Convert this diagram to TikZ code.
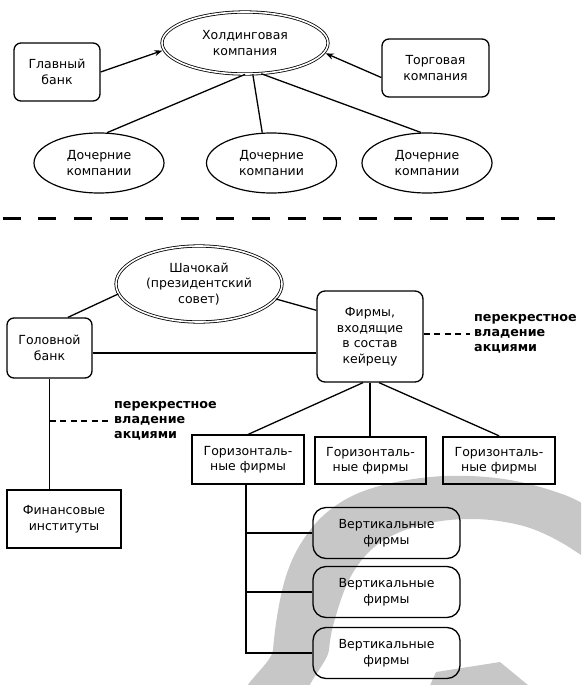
\documentclass[tikz,border=0pt]{standalone}
\usepackage{fontspec}
\setmainfont{DejaVu Sans}
\usetikzlibrary{shapes.geometric,arrows.meta,calc}
\definecolor{wm}{gray}{0.78}
\begin{document}
\begin{tikzpicture}[x=1pt,y=-1pt,
  txt/.style={font=\fontsize{12.5}{15.5}\selectfont, align=center, inner sep=0pt},
  rbox/.style={txt, draw, line width=1.3pt, rounded corners=7pt},
  sbox/.style={txt, draw, line width=1.1pt},
  tbox/.style={txt, draw, line width=2.4pt},
  vbox/.style={txt, draw, line width=1.3pt, rounded corners=13pt},
  oval/.style={txt, ellipse, draw, line width=1.2pt},
  dbl/.style={txt, ellipse, draw, line width=0.8pt, double=white, double distance=1.6pt},
  conn/.style={line width=1.3pt},
  arr/.style={conn, -{Stealth[length=8pt,width=6pt]}, shorten >=1.5pt},
  note/.style={font=\bfseries\fontsize{12.7}{15}\selectfont, align=left, inner sep=0pt, anchor=west},
  notedash/.style={line width=1.6pt, dash pattern=on 6pt off 4.5pt},
  sepline/.style={line width=3pt, dash pattern=on 18pt off 17.6pt},
]
\useasboundingbox (0,0) rectangle (581,685);
% watermark
\begin{scope}
\clip (0,0) rectangle (581,685);
\fill[wm, even odd rule]
  plot[smooth cycle, tension=0.6] coordinates {(270,720) (273,650) (280,600) (290,565) (305,537) (325,514) (352,496) (387,484) (430,477) (470,476) (510,480) (550,490) (585,505) (640,545) (680,720)}
  plot[smooth cycle, tension=0.6] coordinates {(327,720) (329,650) (337,612) (351,576) (372,549) (400,532) (435,522) (471,519) (505,522) (538,531) (575,551) (610,580) (630,640) (630,720)};
\fill[wm] (428,690) -- (436,672) -- (500,662) -- (534,690) -- cycle;
\end{scope}

% upper part
\node[rbox, minimum width=86pt, minimum height=58pt] (glav) at (57,72) {Главный\\банк};
\node[dbl, minimum width=166pt, minimum height=62pt] (hold) at (245,43) {Холдинговая\\компания};
\node[rbox, minimum width=107pt, minimum height=58pt] (torg) at (435.5,68) {Торговая\\компания};
\node[oval, minimum width=130pt, minimum height=60pt] (d1) at (99,163) {Дочерние\\компании};
\node[oval, minimum width=130pt, minimum height=60pt] (d2) at (271.5,163) {Дочерние\\компании};
\node[oval, minimum width=130pt, minimum height=60pt] (d3) at (427,163) {Дочерние\\компании};

\draw[arr] (glav.east) -- (hold.185);
\draw[arr] (torg.190) -- (hold.353);
\draw[conn] (hold.270) -- (d1.75);
\draw[conn] (hold.284) -- (d2.107);
\draw[conn] (hold.298) -- (d3.101);

% separator
\coordinate (sepL) at (2.7,218);
\coordinate (sepR) at (556,218);
\draw[sepline] (sepL) -- (sepR);

% lower part
\node[dbl, minimum width=166pt, minimum height=76pt] (shach) at (199,284) {Шачокай\\(президентский\\совет)};
\node[rbox, minimum width=85pt, minimum height=60pt] (golov) at (49.5,348) {Головной\\банк};
\node[rbox, rounded corners=8pt, minimum width=106pt, minimum height=91pt] (firm) at (370,336.5) {Фирмы,\\входящие\\в состав\\кейрецу};
\node[note] (nR) at (474,334) {перекрестное\\владение\\акциями};
\node[note] (nL) at (114,421) {перекрестное\\владение\\акциями};
\node[sbox, minimum width=114pt, minimum height=58pt] (fin) at (64,519) {Финансовые\\институты};
\node[sbox, minimum width=112pt, minimum height=49pt] (h1) at (248,459.5) {Горизонталь-\\ные фирмы};
\node[tbox, minimum width=111pt, minimum height=47pt] (h2) at (370.5,460.5) {Горизонталь-\\ные фирмы};
\node[tbox, minimum width=112pt, minimum height=47pt] (h3) at (499,460.5) {Горизонталь-\\ные фирмы};
\node[vbox, minimum width=147pt, minimum height=51pt] (v1) at (386.5,533) {Вертикальные\\фирмы};
\node[vbox, minimum width=147pt, minimum height=51pt] (v2) at (386.5,592) {Вертикальные\\фирмы};
\node[vbox, minimum width=147pt, minimum height=51pt] (v3) at (386.5,653) {Вертикальные\\фирмы};

\draw[conn] (golov.59) -- (shach.187);
\draw[conn] (shach.349) -- (firm.154);
\draw[conn] ([yshift=-5pt]golov.east) -- ([yshift=-5pt]golov.east -| firm.west);
\draw[conn] (golov.south) -- (golov.south |- fin.north);
\draw[notedash] (golov.south |- nL.west) -- ([xshift=-6pt]nL.west);
\draw[notedash] (firm.east |- nR.west) -- ([xshift=-4pt]nR.west);
\draw[conn] ([xshift=-7pt]firm.south) -- (h1.north);
\draw[conn] (firm.south) -- (firm.south |- h2.north);
\draw[conn] ([xshift=9pt]firm.south) -- (h3.north);
\draw[conn] ([xshift=-2pt]h1.south) -- ([xshift=-2pt]h1.south |- v3.west) -- (v3.west);
\draw[conn] ([xshift=-2pt]h1.south |- v1.west) -- (v1.west);
\draw[conn] ([xshift=-2pt]h1.south |- v2.west) -- (v2.west);
\end{tikzpicture}
\end{document}
